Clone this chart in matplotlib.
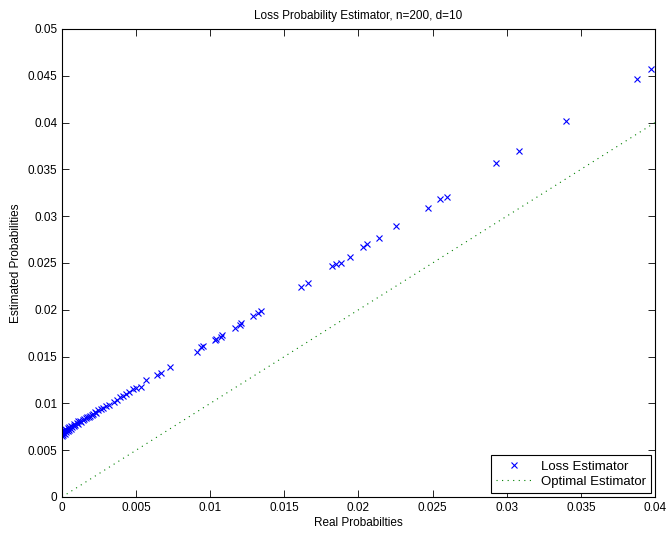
import numpy as np
import matplotlib
matplotlib.use('Agg')
import matplotlib.pyplot as plt

plt.rcParams['font.family'] = ['Liberation Sans', 'DejaVu Sans']
plt.rcParams['font.size'] = 8.5

# real probabilities (x) and estimated probabilities (y)
real_p = [0.0000, 0.0000, 0.0000, 0.0000, 0.0001, 0.0001, 0.0001, 0.0002, 0.0002, 0.0002,
          0.0003, 0.0003, 0.0004, 0.0004, 0.0005, 0.0005, 0.0006, 0.0006, 0.0007, 0.0008,
          0.0008, 0.0009, 0.0010, 0.0011, 0.0011, 0.0012, 0.0013, 0.0014, 0.0015, 0.0016,
          0.0017, 0.0018, 0.0019, 0.0020, 0.0021, 0.0022, 0.0023, 0.0024, 0.0026, 0.0028,
          0.0030, 0.0032, 0.0035, 0.0037, 0.0039, 0.0041, 0.0043, 0.0045, 0.0048, 0.0050,
          0.0053, 0.0057, 0.0064, 0.0067, 0.0073,
          0.0091, 0.0094, 0.0095, 0.0103, 0.0104, 0.0107, 0.0108, 0.0117, 0.0120, 0.0121,
          0.0129, 0.0132, 0.0134, 0.0161, 0.0166, 0.0182, 0.0185, 0.0188, 0.0194, 0.0203,
          0.0206, 0.0214, 0.0225, 0.0247, 0.0255, 0.0260, 0.0293, 0.0308, 0.0340, 0.0388,
          0.0397]
est_p = [0.0065, 0.0067, 0.0069, 0.0071, 0.0066, 0.0068, 0.0070, 0.0067, 0.0071, 0.0073,
         0.0069, 0.0072, 0.0070, 0.0074, 0.0072, 0.0075, 0.0073, 0.0076, 0.0075, 0.0076,
         0.0078, 0.0077, 0.0079, 0.0078, 0.0081, 0.0081, 0.0080, 0.0082, 0.0083, 0.0084,
         0.0085, 0.0085, 0.0087, 0.0088, 0.0089, 0.0091, 0.0090, 0.0093, 0.0094, 0.0095,
         0.0097, 0.0098, 0.0102, 0.0104, 0.0107, 0.0108, 0.0110, 0.0112, 0.0115, 0.0116,
         0.0118, 0.0125, 0.0130, 0.0132, 0.0139,
         0.0155, 0.0160, 0.0161, 0.0168, 0.0169, 0.0171, 0.0173, 0.0181, 0.0184, 0.0186,
         0.0193, 0.0197, 0.0199, 0.0224, 0.0229, 0.0247, 0.0249, 0.0250, 0.0256, 0.0267,
         0.0270, 0.0277, 0.0289, 0.0309, 0.0318, 0.0321, 0.0357, 0.0370, 0.0402, 0.0447,
         0.0457]
optimal_x = [0, 0.04]

x_ticks = [0, 0.005, 0.01, 0.015, 0.02, 0.025, 0.03, 0.035, 0.04]
y_ticks = [0, 0.005, 0.01, 0.015, 0.02, 0.025, 0.03, 0.035, 0.04, 0.045, 0.05]

fig = plt.figure(figsize=(6.68, 5.34), dpi=100)
ax = fig.add_axes([0.0928, 0.0693, 0.8877, 0.8764])

ax.plot(real_p, est_p, 'x', color='blue', markersize=4.5, markeredgewidth=0.8,
        label='Loss Estimator')
ax.plot(optimal_x, optimal_x, color=(0, 0.5, 0), linewidth=0.8, dashes=(1, 4),
        label='Optimal Estimator')

ax.set_xlim(0, 0.04)
ax.set_ylim(0, 0.05)
ax.set_xticks(x_ticks)
ax.set_yticks(y_ticks)
ax.set_xticklabels(['%g' % t for t in x_ticks])
ax.set_yticklabels(['%g' % t for t in y_ticks])
ax.tick_params(direction='in', top=True, right=True, length=5, width=0.6)
for s in ax.spines.values():
    s.set_linewidth(0.8)

ax.set_title('Loss Probability Estimator, n=200, d=10', fontsize=8.5, pad=7)
ax.set_xlabel('Real Probabilties', labelpad=2)
ax.set_ylabel('Estimated Probabilities', labelpad=4)

leg = ax.legend(loc='lower right', fancybox=False, edgecolor='black', framealpha=1,
                borderaxespad=0.3, handlelength=2.8, borderpad=0.4, labelspacing=0.2,
                handletextpad=0.6, numpoints=1, prop={'size': 9.5})
leg.get_frame().set_linewidth(0.8)

fig.savefig('out.png', dpi=100)
